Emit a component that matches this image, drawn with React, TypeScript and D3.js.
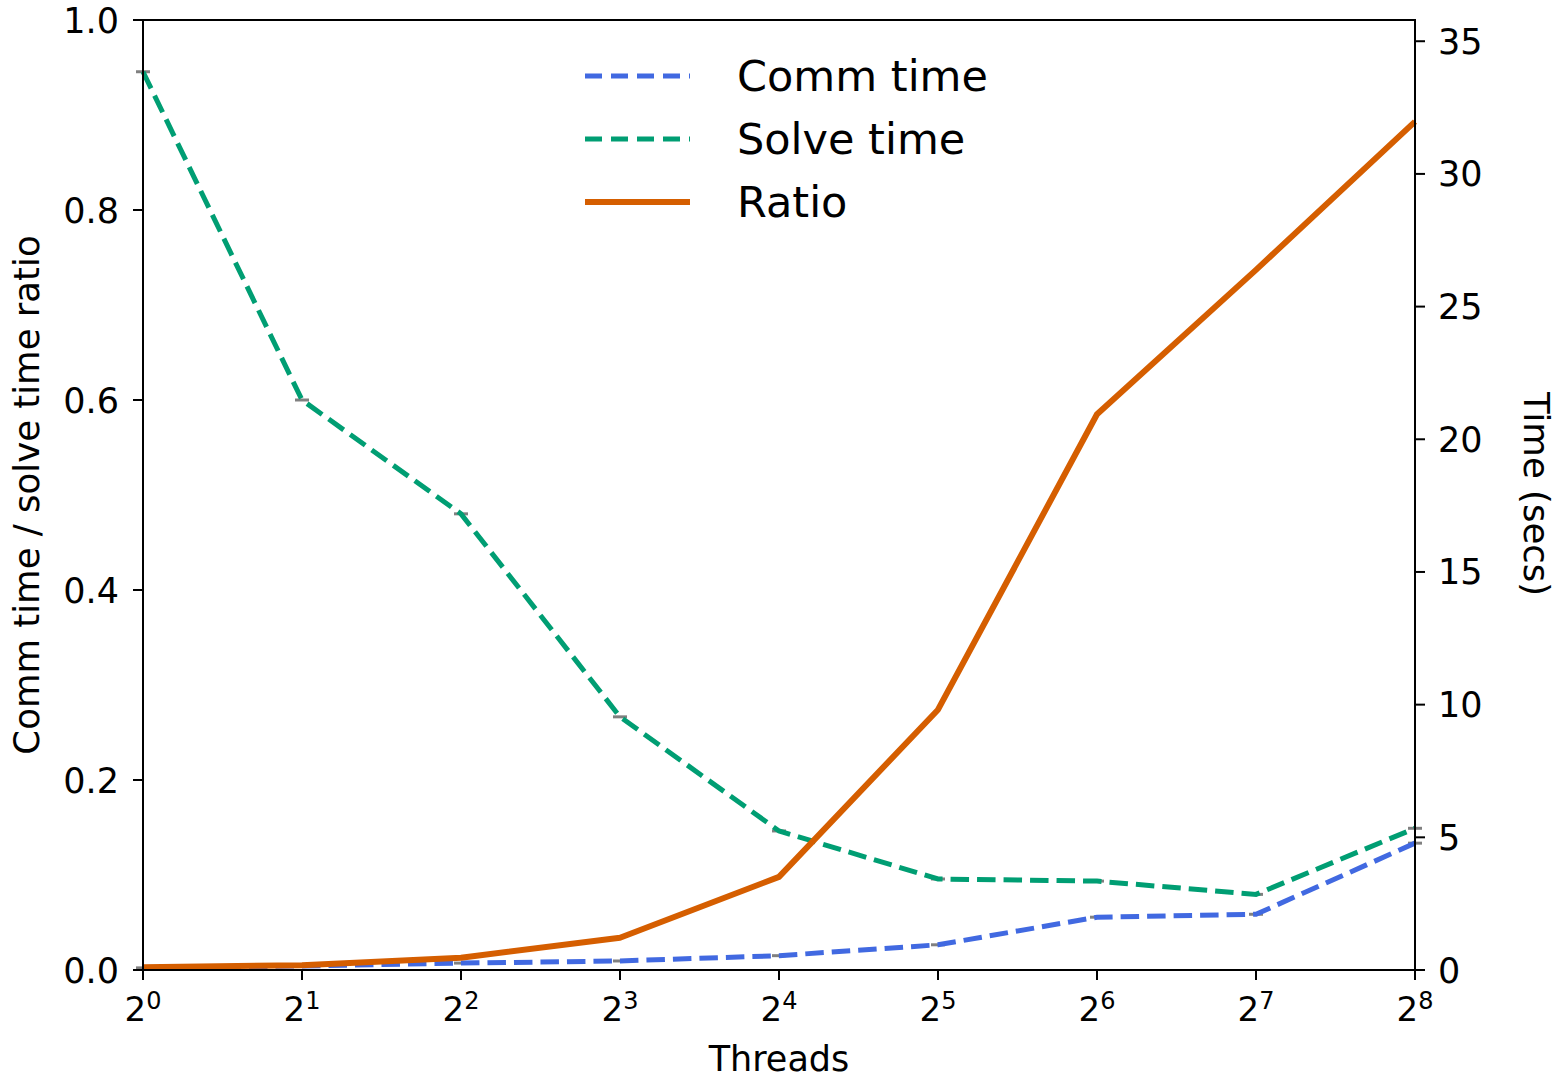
import React from "react";
import * as d3 from "d3";

const threads = [1, 2, 4, 8, 16, 32, 64, 128, 256];
const commTime = [0.08, 0.15, 0.26, 0.34, 0.54, 0.95, 1.99, 2.1, 4.78];
const solveTime = [33.85, 21.48, 17.19, 9.54, 5.24, 3.43, 3.35, 2.85, 5.34];
const ratio = [0.003, 0.005, 0.013, 0.034, 0.098, 0.274, 0.585, 0.737, 0.893];
const leftTicks = [0, 0.2, 0.4, 0.6, 0.8, 1.0];
const rightTicks = [0, 5, 10, 15, 20, 25, 30, 35];
const xExponents = [0, 1, 2, 3, 4, 5, 6, 7, 8];
const legendItems = ["Comm time", "Solve time", "Ratio"];

const W = 1562;
const H = 1078;
const L = 143, R = 1415, T = 20, B = 970;
const FONT = "DejaVu Sans, sans-serif";

export default function App() {
  const x = d3.scaleLog().base(2).domain([1, 256]).range([L, R]);
  const yL = d3.scaleLinear().domain([0, 1]).range([B, T]);
  const yR = d3.scaleLinear().domain([0, 35.8]).range([B, T]);

  const lineR = d3.line<number>().x((_, i) => x(threads[i])).y((d) => yR(d));
  const lineL = d3.line<number>().x((_, i) => x(threads[i])).y((d) => yL(d));

  const blue = "#4169e1";
  const green = "#009e73";
  const orange = "#d55e00";
  const dash = "18.5,8";
  const legendColors = [blue, green, orange];

  return (
    <svg width={W} height={H} style={{ position: "absolute", left: 0, top: 0 }} fontFamily={FONT}>
      <rect x={0} y={0} width={W} height={H} fill="#fff" />
      {threads.map((t, i) => (
        <g key={"c" + i}>
          <line x1={x(t) - 7} x2={x(t) + 7} y1={yR(commTime[i])} y2={yR(commTime[i])} stroke="#808080" strokeWidth={3} />
          <line x1={x(t) - 7} x2={x(t) + 7} y1={yR(solveTime[i])} y2={yR(solveTime[i])} stroke="#808080" strokeWidth={3} />
        </g>
      ))}
      <path d={lineR(commTime) || ""} fill="none" stroke={blue} strokeWidth={5} strokeDasharray={dash} />
      <path d={lineR(solveTime) || ""} fill="none" stroke={green} strokeWidth={5} strokeDasharray={dash} />
      <path d={lineL(ratio) || ""} fill="none" stroke={orange} strokeWidth={6} strokeLinejoin="round" />

      <rect x={L} y={T} width={R - L} height={B - T} fill="none" stroke="#000" strokeWidth={2} />

      {xExponents.map((e) => {
        const px = x(Math.pow(2, e));
        return (
          <g key={"x" + e}>
            <line x1={px} x2={px} y1={B} y2={B + 10} stroke="#000" strokeWidth={2} />
            <text x={px} y={1021} textAnchor="middle" fontSize={34}>
              <tspan>2</tspan>
              <tspan dy={-12} fontSize={24}>{e}</tspan>
            </text>
          </g>
        );
      })}
      {leftTicks.map((v) => (
        <g key={"l" + v}>
          <line x1={L - 10} x2={L} y1={yL(v)} y2={yL(v)} stroke="#000" strokeWidth={2} />
          <text x={119} y={yL(v) + 12.5} textAnchor="end" fontSize={35}>{v.toFixed(1)}</text>
        </g>
      ))}
      {rightTicks.map((v) => (
        <g key={"r" + v}>
          <line x1={R} x2={R + 10} y1={yR(v)} y2={yR(v)} stroke="#000" strokeWidth={2} />
          <text x={1438} y={yR(v) + 12.5} textAnchor="start" fontSize={35}>{v}</text>
        </g>
      ))}

      <text x={779} y={1071} textAnchor="middle" fontSize={35}>Threads</text>
      <text transform={`translate(39,495) rotate(-90)`} textAnchor="middle" fontSize={35.5}>Comm time / solve time ratio</text>
      <text transform={`translate(1524,494) rotate(90)`} textAnchor="middle" fontSize={35.5}>Time (secs)</text>

      {legendItems.map((label, i) => {
        const ly = 76 + i * 63;
        const dashed = i < 2;
        return (
          <g key={"lg" + i}>
            <line x1={585} x2={690} y1={ly} y2={ly} stroke={legendColors[i]} strokeWidth={dashed ? 5 : 6} strokeDasharray={dashed ? "17,9" : undefined} />
            <text x={737} y={ly + 15} fontSize={43}>{label}</text>
          </g>
        );
      })}
    </svg>
  );
}
